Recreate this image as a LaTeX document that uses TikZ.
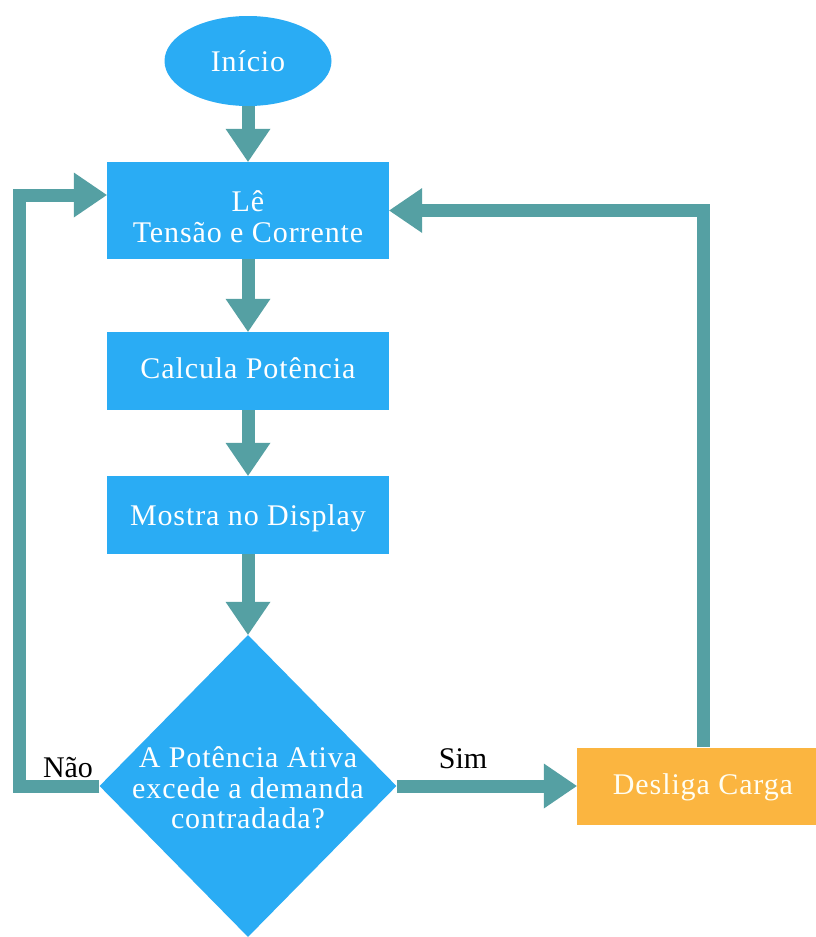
\documentclass[tikz,border=0pt]{standalone}
\usepackage{fontspec}
\setmainfont{Liberation Serif}
\newfontfamily\boxfont{Liberation Serif}[LetterSpace=3]
\usetikzlibrary{shapes.geometric,arrows.meta}
\definecolor{boxblue}{HTML}{2AACF4}
\definecolor{arrteal}{HTML}{55A0A3}
\definecolor{cargo}{HTML}{FBB540}
\begin{document}
\begin{tikzpicture}[x=1pt,y=-1pt,
  boxtxt/.style={text=white, align=center, font=\boxfont\fontsize{30}{30.5}\selectfont},
  blk/.style={rectangle, fill=boxblue, minimum width=282pt, inner sep=0pt, boxtxt},
  flow/.style={draw=arrteal, line width=13pt, line join=miter, -{Triangle[width=45pt,length=33pt,line width=0pt]}},
  lbl/.style={text=black, font=\fontsize{30}{32}\selectfont, inner sep=0pt}
]
\useasboundingbox (0,0) rectangle (816,937);
\fill[white] (0,0) rectangle (816,937);

\node[ellipse, fill=boxblue, minimum width=167pt, minimum height=90pt, inner sep=0pt, boxtxt] (ini) at (248,61) {Início};
\node[blk, minimum height=97pt] (le) at (248,210.5) {};
\node[boxtxt, inner sep=0pt] (let) at ([yshift=-6pt]le.center) {Lê\\Tensão e Corrente};
\node[blk, minimum height=78pt, text height=22pt, text depth=6.5pt] (calc) at (248,371) {Calcula Potência};
\node[blk, minimum height=78pt, text height=27pt, text depth=6.5pt] (most) at (248,515) {Mostra no Display};
\node[diamond, fill=boxblue, minimum width=297pt, minimum height=302pt, inner sep=0pt] (dec) at (248,786) {};
\node[boxtxt, inner sep=0pt] (dect) at ([yshift=-2pt]dec.center) {A Potência Ativa\\excede a demanda\\contradada?};
\node[rectangle, fill=cargo, minimum width=252pt, minimum height=77pt, inner sep=0pt, boxtxt, text=white!95!yellow, text height=24pt, text depth=6.5pt] (desl) at (703,786) {Desliga Carga};

\coordinate (nl) at (19.5,786);
\coordinate (nu) at (19.5,195);

\draw[flow] (ini.south) -- (le.north);
\draw[flow] (le.south) -- (calc.north);
\draw[flow] (calc.south) -- (most.north);
\draw[flow] (most.south) -- (dec.north);
\draw[flow] (dec.east) -- (desl.west);
\draw[flow] (desl.north) |- (le.east);
\draw[flow] (dec.west) -- (nl) -- (nu) -- (le.west |- nu);

\node[lbl, anchor=base] (sim) at (463,768) {Sim};
\node[lbl, anchor=base] (nao) at (68,777) {Não};
\end{tikzpicture}
\end{document}
